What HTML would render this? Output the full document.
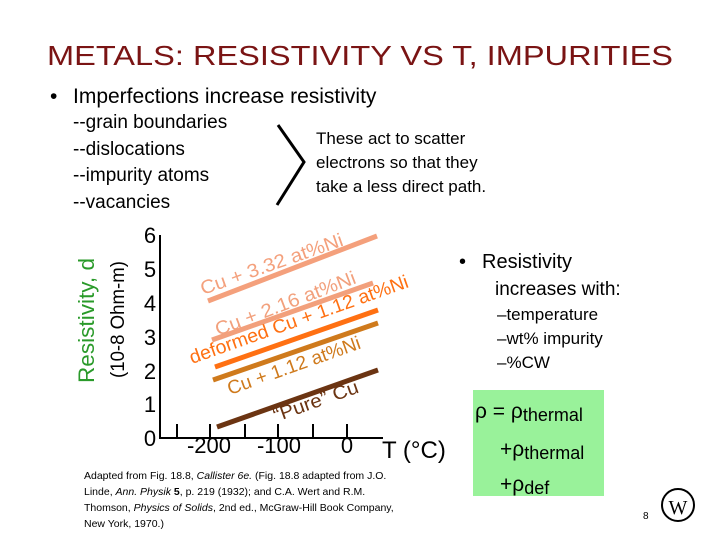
<!DOCTYPE html>
<html><head><meta charset="utf-8"><style>
html,body{margin:0;padding:0;background:#fff;}
svg{display:block;font-family:"Liberation Sans",sans-serif;}
</style></head><body>
<svg width="720" height="540" viewBox="0 0 720 540" xmlns="http://www.w3.org/2000/svg">
<rect width="720" height="540" fill="#fff"/>
<text x="47" y="65" font-size="28" fill="#7a1414" textLength="626" lengthAdjust="spacingAndGlyphs">METALS:  RESISTIVITY VS T, IMPURITIES</text>
<text x="50" y="103" font-size="21" fill="#000">•</text>
<text x="73" y="103" font-size="21" fill="#000">Imperfections increase resistivity</text>
<g font-size="19" fill="#000">
<text x="73" y="128">--grain boundaries</text>
<text x="73" y="155">--dislocations</text>
<text x="73" y="181">--impurity atoms</text>
<text x="73" y="208">--vacancies</text>
</g>
<polyline points="278,125 304,162 277,205" fill="none" stroke="#000" stroke-width="3"/>
<g font-size="17" fill="#000">
<text x="316" y="144">These act to scatter</text>
<text x="316" y="168">electrons so that they</text>
<text x="316" y="192">take a less direct path.</text>
</g>
<g stroke="#000" stroke-width="2" fill="none">
<polyline points="160,235 160,438 383,438"/>
<line x1="177" y1="424" x2="177" y2="438"/>
<line x1="210" y1="424" x2="210" y2="438"/>
<line x1="245" y1="424" x2="245" y2="438"/>
<line x1="278" y1="424" x2="278" y2="438"/>
<line x1="313" y1="424" x2="313" y2="438"/>
<line x1="347" y1="424" x2="347" y2="438"/>
</g>
<g font-size="22" fill="#000" text-anchor="middle">
<text x="150" y="243">6</text><text x="150" y="277">5</text><text x="150" y="311">4</text>
<text x="150" y="345">3</text><text x="150" y="379">2</text><text x="150" y="412">1</text><text x="150" y="446">0</text>
<text x="209" y="453">-200</text><text x="279" y="453">-100</text><text x="347" y="453">0</text>
</g>
<text x="382" y="458" font-size="24" fill="#000">T (°C)</text>
<text transform="translate(94,383) rotate(-90)" font-size="22" fill="#2a9a2a" textLength="125" lengthAdjust="spacingAndGlyphs">Resistivity, d</text>
<text transform="translate(124,378) rotate(-90)" font-size="19" fill="#000" textLength="117" lengthAdjust="spacingAndGlyphs">(10-8 Ohm-m)</text>
<g stroke-width="5" stroke-linecap="butt">
<line x1="208" y1="301" x2="377" y2="236" stroke="#f4a07c"/>
<line x1="212" y1="340" x2="373" y2="283" stroke="#f2a07c"/>
<line x1="215" y1="367" x2="378" y2="310" stroke="#ff7012"/>
<line x1="213" y1="380" x2="378" y2="323" stroke="#cf7a1c"/>
<line x1="217" y1="427" x2="378" y2="370" stroke="#6b3412"/>
</g>
<g font-size="19">
<text transform="translate(203,295) rotate(-19.4)" fill="#f4a07c" textLength="150" lengthAdjust="spacingAndGlyphs">Cu + 3.32 at%Ni</text>
<text transform="translate(218,336) rotate(-20.9)" fill="#f2a07c" textLength="149" lengthAdjust="spacingAndGlyphs">Cu + 2.16 at%Ni</text>
<text transform="translate(192,364) rotate(-19.5)" fill="#ff7012" textLength="231" lengthAdjust="spacingAndGlyphs">deformed Cu + 1.12 at%Ni</text>
<text transform="translate(230,395) rotate(-19.6)" fill="#cf7a1c" textLength="140" lengthAdjust="spacingAndGlyphs">Cu + 1.12 at%Ni</text>
<text transform="translate(276,422) rotate(-19.6)" fill="#6b3412" textLength="89" lengthAdjust="spacingAndGlyphs">“Pure” Cu</text>
</g>
<g fill="#000">
<text x="459" y="268" font-size="20">•</text>
<text x="482" y="268" font-size="20">Resistivity</text>
<text x="495" y="295" font-size="19">increases with:</text>
<text x="497" y="320" font-size="17">–temperature</text>
<text x="497" y="344" font-size="17">–wt% impurity</text>
<text x="497" y="368" font-size="17">–%CW</text>
</g>
<rect x="473" y="390" width="131" height="106" fill="#99f29a"/>
<g fill="#000">
<text x="475" y="418" font-size="21">ρ = ρ<tspan font-size="18" dy="3">thermal</tspan></text>
<text x="500" y="456" font-size="21">+ρ<tspan font-size="18" dy="3">thermal</tspan></text>
<text x="500" y="491" font-size="21">+ρ<tspan font-size="18" dy="3">def</tspan></text>
</g>
<g font-size="10.5" fill="#000">
<text x="84" y="479">Adapted from Fig. 18.8, <tspan font-style="italic">Callister 6e.</tspan>  (Fig. 18.8 adapted from J.O.</text>
<text x="84" y="495">Linde, <tspan font-style="italic">Ann. Physik</tspan> <tspan font-weight="bold">5</tspan>, p. 219 (1932); and C.A. Wert and R.M.</text>
<text x="84" y="511">Thomson, <tspan font-style="italic">Physics of Solids</tspan>, 2nd ed., McGraw-Hill Book Company,</text>
<text x="84" y="527">New York, 1970.)</text>
</g>
<text x="643" y="519" font-size="10" fill="#000">8</text>
<circle cx="678" cy="505" r="16" fill="none" stroke="#000" stroke-width="2"/>
<text x="678" y="514" font-size="20" text-anchor="middle" fill="#000" font-family="Liberation Serif,serif">W</text>
</svg>
</body></html>
